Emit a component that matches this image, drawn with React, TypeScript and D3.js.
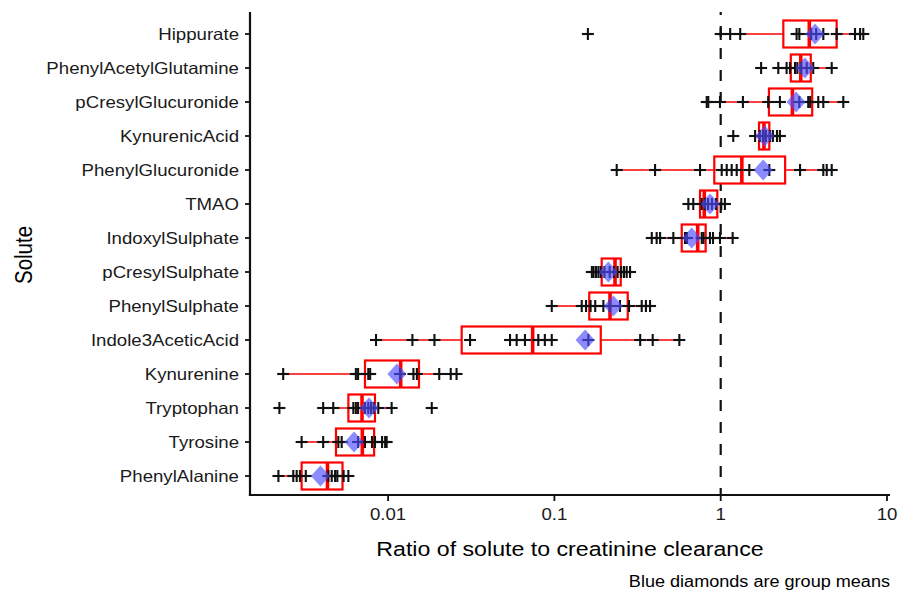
import React from "react";
import * as d3 from "d3";

const solutes = [
  "Hippurate", "PhenylAcetylGlutamine", "pCresylGlucuronide", "KynurenicAcid",
  "PhenylGlucuronide", "TMAO", "IndoxylSulphate", "pCresylSulphate",
  "PhenylSulphate", "Indole3AceticAcid", "Kynurenine", "Tryptophan",
  "Tyrosine", "PhenylAlanine",
];

const q1s = [2.38, 2.64, 1.95, 1.70, 0.915, 0.751, 0.583, 0.1925, 0.162, 0.0277, 0.00726, 0.00577, 0.00486, 0.00302];
const medians = [3.41, 3.03, 2.70, 1.82, 1.34, 0.797, 0.727, 0.2315, 0.216, 0.074, 0.0119, 0.00697, 0.0070, 0.00432];
const q3s = [4.98, 3.48, 3.55, 1.96, 2.44, 0.954, 0.812, 0.2505, 0.276, 0.19, 0.01534, 0.00834, 0.00824, 0.00532];
const whiskerLo = [1.0, 2.22, 0.824, 1.61, 0.237, 0.639, 0.385, 0.168, 0.0964, 0.00846, 0.00234, 0.00407, 0.00302, 0.00219];
const whiskerHi = [7.2, 4.65, 5.46, 2.27, 4.65, 1.06, 1.18, 0.285, 0.376, 0.564, 0.0258, 0.0105, 0.0098, 0.00577];
const means = [3.69, 3.21, 2.84, 1.84, 1.80, 0.862, 0.669, 0.211, 0.226, 0.153, 0.0113, 0.00768, 0.00624, 0.00392];

const points: number[][] = [
  [0.159, 1.0, 1.14, 1.31, 2.86, 2.97, 3.5, 3.75, 4.14, 4.98, 6.42, 6.89, 7.2],
  [1.75, 2.22, 2.49, 2.61, 2.80, 2.89, 3.04, 3.29, 3.60, 4.65],
  [0.824, 0.842, 0.99, 1.36, 1.93, 2.27, 2.97, 3.36, 3.45, 3.86, 4.14, 5.46],
  [1.19, 1.61, 1.72, 1.80, 1.87, 1.98, 2.06, 2.18, 2.27],
  [0.237, 0.403, 0.751, 1.014, 1.087, 1.164, 1.248, 1.486, 1.96, 3.0, 4.14, 4.34, 4.65],
  [0.639, 0.684, 0.769, 0.804, 0.839, 0.886, 0.937, 1.008, 1.06],
  [0.385, 0.412, 0.432, 0.519, 0.61, 0.627, 0.769, 0.788, 0.862, 0.899, 0.99, 1.18],
  [0.168, 0.172, 0.178, 0.184, 0.19, 0.2, 0.215, 0.228, 0.24, 0.252, 0.262, 0.272, 0.285],
  [0.0964, 0.146, 0.155, 0.165, 0.176, 0.197, 0.215, 0.248, 0.281, 0.335, 0.355, 0.376],
  [0.00846, 0.014, 0.019, 0.0311, 0.0541, 0.0593, 0.0665, 0.080, 0.0876, 0.0964, 0.16, 0.328, 0.39, 0.564],
  [0.00234, 0.0064, 0.0066, 0.0076, 0.0078, 0.0118, 0.0142, 0.0149, 0.0203, 0.0238, 0.0258],
  [0.00222, 0.00407, 0.00468, 0.00618, 0.0064, 0.0066, 0.00726, 0.0076, 0.0079, 0.0082, 0.00873, 0.0105, 0.0183],
  [0.00302, 0.00407, 0.00502, 0.00526, 0.0066, 0.00726, 0.008, 0.00834, 0.0092, 0.0096, 0.0098],
  [0.00219, 0.00269, 0.00282, 0.00295, 0.0032, 0.00437, 0.00458, 0.0048, 0.00495, 0.0054, 0.00577],
];

const xTicks = [0.01, 0.1, 1, 10];
const xTickLabels = ["0.01", "0.1", "1", "10"];
const referenceValue = 1;

const W = 909;
const H = 591;
const FONT = "'Liberation Sans', Arial, sans-serif";
const SX = 1.13;

function SText(props: { x: number; y: number; size: number; anchor?: string; children: React.ReactNode; fill?: string }) {
  const { x, y, size, anchor = "start", children, fill = "#1a1a1a" } = props;
  return (
    <text
      transform={`translate(${x},${y}) scale(${SX},1)`}
      fontSize={size}
      fontFamily={FONT}
      textAnchor={anchor}
      fill={fill}
    >
      {children}
    </text>
  );
}

export default function App() {
  const left = 250, right = 890, top = 12, bottom = 495;
  const x = d3.scaleLog().domain([Math.pow(10, -2.8304), Math.pow(10, 1.0180)]).range([left, right]);
  const y = d3.scalePoint<string>().domain(solutes).range([34, 476]);
  const boxH = 27;
  const half = boxH / 2;
  const ps = 6;
  const diamond = (cx: number, cy: number) => {
    const w = 9.5, h = 10.5;
    return `M${cx},${cy - h}L${cx + w},${cy}L${cx},${cy + h}L${cx - w},${cy}Z`;
  };

  return (
    <svg width={W} height={H} style={{ position: "absolute", left: 0, top: 0, background: "#fff" }}>
      <rect width={W} height={H} fill="#fff" />
      {/* reference dashed line */}
      <line x1={x(referenceValue)} x2={x(referenceValue)} y1={top} y2={bottom}
        stroke="#111" strokeWidth={2.2} strokeDasharray="11,11" strokeDashoffset={8} />

      {solutes.map((s, i) => {
        const cy = y(s) as number;
        return (
          <g key={s}>
            <line x1={x(whiskerLo[i])} x2={x(whiskerHi[i])} y1={cy} y2={cy} stroke="#ff0000" strokeWidth={1.6} />
            <rect x={x(q1s[i])} y={cy - half} width={x(q3s[i]) - x(q1s[i])} height={boxH}
              fill="#fff" stroke="#ff0000" strokeWidth={2.2} />
            <line x1={x(medians[i])} x2={x(medians[i])} y1={cy - half} y2={cy + half} stroke="#ff0000" strokeWidth={3.6} />
            {points[i].map((v, j) => (
              <g key={j} stroke="#111" strokeWidth={2.1}>
                <line x1={x(v) - ps} x2={x(v) + ps} y1={cy} y2={cy} />
                <line x1={x(v)} x2={x(v)} y1={cy - ps} y2={cy + ps} />
              </g>
            ))}
            <path d={diamond(x(means[i]), cy)} fill="#4d4dff" fillOpacity={0.65} />
          </g>
        );
      })}

      {/* axes */}
      <line x1={left} x2={left} y1={top} y2={bottom + 1.1} stroke="#111" strokeWidth={2.2} />
      <line x1={left - 1.1} x2={right} y1={bottom} y2={bottom} stroke="#111" strokeWidth={2.2} />
      {solutes.map((s) => (
        <g key={"t" + s}>
          <line x1={left - 5} x2={left} y1={y(s) as number} y2={y(s) as number} stroke="#111" strokeWidth={1.8} />
          <SText x={left - 11} y={(y(s) as number) + 5.8} size={16.5} anchor="end">{s}</SText>
        </g>
      ))}
      {xTicks.map((t, i) => (
        <g key={"x" + t}>
          <line x1={x(t)} x2={x(t)} y1={bottom} y2={bottom + 6} stroke="#111" strokeWidth={1.8} />
          <SText x={x(t)} y={bottom + 25} size={16.5} anchor="middle">{xTickLabels[i]}</SText>
        </g>
      ))}
      <SText x={(left + right) / 2} y={556} size={20.5} anchor="middle" fill="#000">Ratio of solute to creatinine clearance</SText>
      <text transform={`translate(32,255) rotate(-90) scale(1,${SX})`} fontSize={20.5} fontFamily={FONT} textAnchor="middle" fill="#000">Solute</text>
      <SText x={890} y={587} size={16} anchor="end" fill="#000">Blue diamonds are group means</SText>
    </svg>
  );
}
